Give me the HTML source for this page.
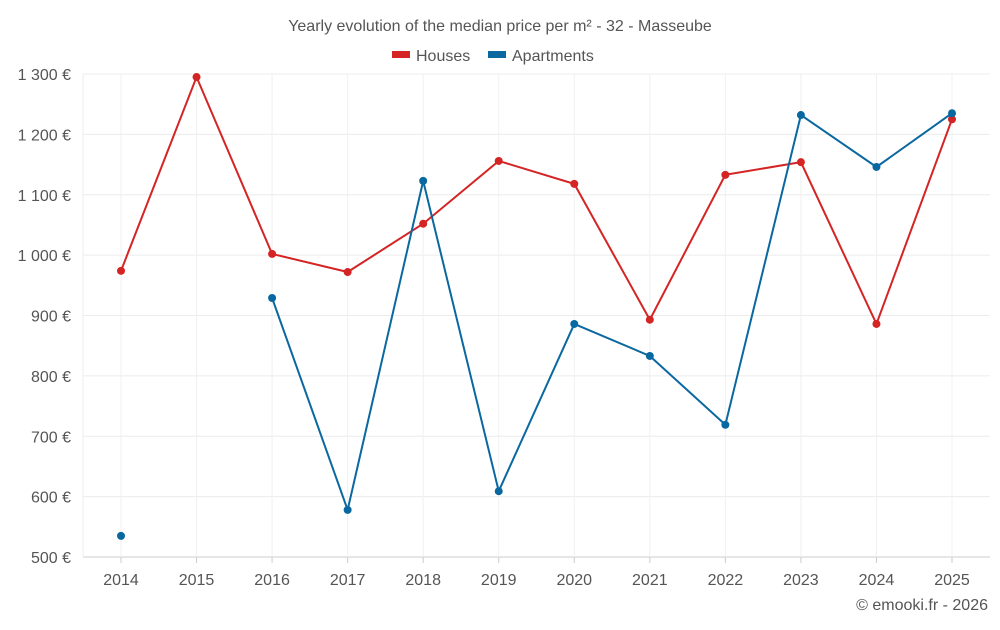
<!DOCTYPE html>
<html><head><meta charset="utf-8">
<style>
body{margin:0;background:#fff;font-family:"Liberation Sans",sans-serif;}
svg text{font-family:"Liberation Sans",sans-serif;fill:#555;}
</style></head>
<body>
<svg id="chart" width="1000" height="625">
<text x="500" y="31" font-size="16" text-anchor="middle">Yearly evolution of the median price per m² - 32 - Masseube</text>
<g>
<g><rect x="392" y="51" width="18" height="7" fill="#d42424"/><text x="416" y="61" font-size="16">Houses</text></g>
<g><rect x="488" y="51" width="18" height="7" fill="#0a68a0"/><text x="512" y="61" font-size="16">Apartments</text></g>
</g>
<g id="grid"></g><g id="axes"></g><g id="series"></g>
<text x="988" y="610" font-size="16" text-anchor="end">© emooki.fr - 2026</text>
</svg>
<script>
const years=[2014,2015,2016,2017,2018,2019,2020,2021,2022,2023,2024,2025];
const houses=[974,1295,1002,972,1052,1156,1118,893,1133,1154,886,1225];
const apartments=[535,null,929,578,1123,609,886,833,719,1232,1146,1235];
const yTicks=[500,600,700,800,900,1000,1100,1200,1300];
const NS="http://www.w3.org/2000/svg";
const L=83,R=990,T=74,B=557;
const x=i=>121+i*(952-121)/(years.length-1);
const y=v=>B-(v-500)/(1300-500)*(B-T);
function mk(tag,attrs,parent){const e=document.createElementNS(NS,tag);for(const k in attrs)e.setAttribute(k,attrs[k]);parent.appendChild(e);return e;}
const grid=document.getElementById('grid'),axes=document.getElementById('axes'),series=document.getElementById('series');
yTicks.forEach(t=>{
 const l=mk('line',{x1:L,x2:R,y1:y(t),y2:y(t),stroke:t===500?'#ccc':'#ececec'},grid);
 
 
 const tx=mk('text',{x:71,y:y(t)+6,'font-size':16,'text-anchor':'end'},axes);
 tx.textContent=(t>=1000?Math.floor(t/1000)+' '+String(t%1000).padStart(3,'0'):t)+' €';
 
 
});
years.forEach((yr,i)=>{
 const l=mk('line',{x1:x(i),x2:x(i),y1:T,y2:B,stroke:'#f0f0f0'},grid);
 
 
 const tk=mk('line',{x1:x(i),x2:x(i),y1:B,y2:B+6,stroke:'#ccc'},axes);
 
 
 const tx=mk('text',{x:x(i),y:585,'font-size':16,'text-anchor':'middle'},axes);
 tx.textContent=yr;
 
 
});
const lv=mk('line',{x1:L,x2:L,y1:T,y2:B,stroke:'#ececec'},grid);


function draw(vals,color,name){
 let segs=[],cur=[];
 vals.forEach((v,i)=>{if(v==null){if(cur.length)segs.push(cur);cur=[];}else cur.push([x(i),y(v)]);});
 if(cur.length)segs.push(cur);
 segs.forEach(s=>{if(s.length>1){const p=mk('polyline',{points:s.map(q=>q.join(',')).join(' '),fill:'none',stroke:color,'stroke-width':2},series);
 
 }});
 vals.forEach((v,i)=>{if(v==null)return;const c=mk('circle',{cx:x(i),cy:y(v),r:4,fill:color},series);
 
 });
}
draw(houses,'#d42424','houses');
draw(apartments,'#0a68a0','apartments');
</script>
</body></html>
